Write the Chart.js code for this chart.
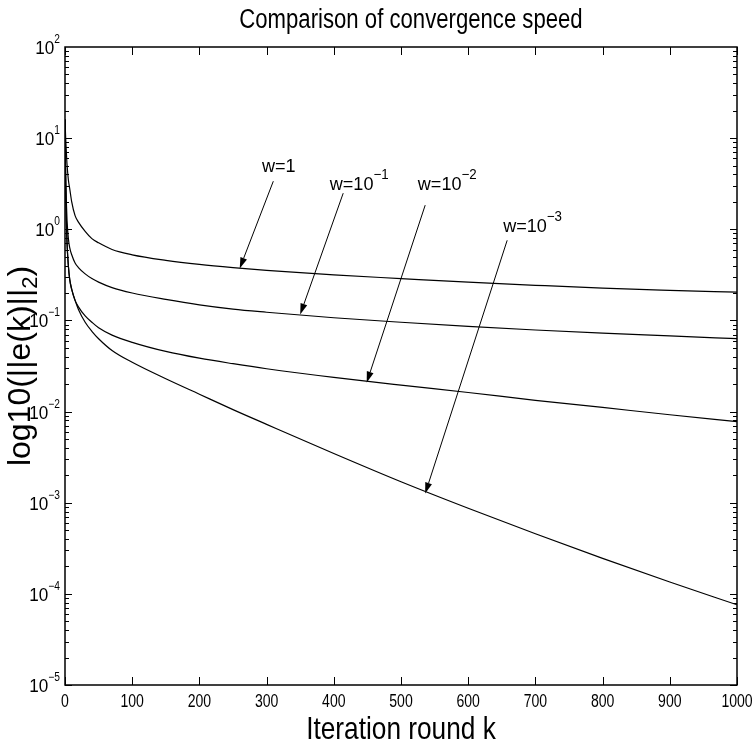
<!DOCTYPE html>
<html>
<head>
<meta charset="utf-8">
<script src="https://cdn.jsdelivr.net/npm/chart.js@4.4.1/dist/chart.umd.min.js"></script>
<style>
html,body{margin:0;padding:0;background:#fff;}
#wrap{width:753px;height:745px;}
</style>
</head>
<body>
<div id="wrap"><canvas id="c" width="753" height="745"></canvas></div>
<script>
// ---- data ----
const chartTitle = 'Comparison of convergence speed';
const xTitle = 'Iteration round k';
const kVals = [0,1,2,3,5,7,10,15,20,30,40,50,70,100,150,200,250,300,400,500,600,700,800,900,1000];
const errW1    = [16,10,7.1,5.2,3.5,2.8,2.0,1.41,1.2,0.95,0.79,0.71,0.60,0.525,0.457,0.412,0.380,0.355,0.316,0.288,0.263,0.243,0.226,0.214,0.204];
const errW01   = [16,4.0,2.0,1.26,0.79,0.63,0.525,0.427,0.38,0.324,0.288,0.263,0.229,0.2,0.17,0.148,0.133,0.123,0.107,0.0955,0.0861,0.0785,0.0724,0.0676,0.063];
const errW001  = [16,3.16,1.26,0.71,0.398,0.282,0.219,0.166,0.141,0.112,0.0955,0.083,0.069,0.0575,0.0457,0.0385,0.0335,0.0295,0.0237,0.0195,0.0162,0.0133,0.0111,0.00923,0.00776];
const errW0001 = [16,3.16,1.26,0.71,0.398,0.282,0.219,0.166,0.132,0.0955,0.0759,0.063,0.0468,0.0347,0.0229,0.0155,0.0105,0.00724,0.00347,0.0017,0.00087,0.000457,0.000245,0.000135,0.0000759];
const xTicks = [0,100,200,300,400,500,600,700,800,900,1000];
const yExps = [-5,-4,-3,-2,-1,0,1,2];
// annotations (data coordinates)
const annBase  = ['w=1','w=10','w=10','w=10'];
const annExp   = ['','\u22121','\u22122','\u22123'];
const annTextK = [293,394,525,652];
const annTextV = [4.23,2.69,2.69,0.927];
const arrFromK = [310,414,536,658];
const arrFromV = [3.37,2.49,1.84,0.757];
const arrToK   = [260,350,449,536];
const arrToV   = [0.372,0.116,0.0208,0.00126];

const REG = "'Liberation Sans',Arial,Helvetica,sans-serif";

function pts(arr){ return kVals.map((k,i)=>({x:k,y:arr[i]})); }
const series = [errW1, errW01, errW001, errW0001];

// draw text horizontally condensed by factor hs
function sText(ctx, t, x, y, size, align, hs){
  ctx.save();
  ctx.font = size+'px '+REG;
  ctx.textAlign = 'left';
  ctx.textBaseline = 'alphabetic';
  const w = ctx.measureText(t).width*hs;
  let left = x;
  if(align==='center') left = x - w/2; else if(align==='right') left = x - w;
  ctx.translate(left, y);
  ctx.scale(hs,1);
  ctx.fillText(t,0,0);
  ctx.restore();
  return w;
}

const decor = {
  id:'decor',
  afterDraw(chart){
    const {ctx, chartArea:a, scales:{x,y}} = chart;
    ctx.save();
    ctx.strokeStyle='#000'; ctx.fillStyle='#000';
    // inward ticks
    ctx.lineWidth=1;
    ctx.beginPath();
    xTicks.forEach(v=>{
      const px=Math.round(x.getPixelForValue(v))+0.5;
      ctx.moveTo(px,a.bottom); ctx.lineTo(px,a.bottom-8);
      ctx.moveTo(px,a.top); ctx.lineTo(px,a.top+8);
    });
    for(let e=yExps[0]; e<yExps[yExps.length-1]; e++){
      for(let m=1;m<=9;m++){
        const py=Math.round(y.getPixelForValue(m*Math.pow(10,e)))+0.5;
        const len = m===1?7:4;
        ctx.moveTo(a.left,py); ctx.lineTo(a.left+len,py);
        ctx.moveTo(a.right,py); ctx.lineTo(a.right-len,py);
      }
    }
    ctx.stroke();
    // box
    ctx.lineWidth=1.5;
    ctx.strokeRect(a.left,a.top,a.right-a.left,a.bottom-a.top);
    // x tick labels
    xTicks.forEach(v=>{
      sText(ctx, String(v), x.getPixelForValue(v), a.bottom+22, 18, 'center', 0.78);
    });
    // y tick labels 10^e
    yExps.forEach(e=>{
      const py=y.getPixelForValue(Math.pow(10,e));
      const es = e<0 ? '\u2212'+(-e) : String(e);
      const right=a.left-5;
      const ew = sText(ctx, es, right, py-4, 12, 'right', 0.85);
      sText(ctx, '10', right-ew, py+7, 18, 'right', 0.95);
    });
    // title
    sText(ctx, chartTitle, (a.left+a.right)/2+10, 28, 27, 'center', 0.82);
    // x title
    sText(ctx, xTitle, (a.left+a.right)/2, 739, 32, 'center', 0.82);
    // y axis title with subscript
    ctx.save();
    ctx.translate(30,(a.top+a.bottom)/2);
    ctx.rotate(-Math.PI/2);
    const p1='log10(||e(k)||', p2='2', p3=')';
    ctx.font='32px '+REG; const w1=ctx.measureText(p1).width, w3=ctx.measureText(p3).width;
    ctx.font='22px '+REG; const w2=ctx.measureText(p2).width;
    let sx=-(w1+w2+w3)/2;
    ctx.textAlign='left'; ctx.textBaseline='alphabetic';
    ctx.font='32px '+REG; ctx.fillText(p1,sx,0);
    ctx.font='22px '+REG; ctx.fillText(p2,sx+w1,7);
    ctx.font='32px '+REG; ctx.fillText(p3,sx+w1+w2,0);
    ctx.restore();
    // annotations
    ctx.lineWidth=1;
    annBase.forEach((t,i)=>{
      const tx=x.getPixelForValue(annTextK[i]), ty=y.getPixelForValue(annTextV[i]);
      const bw = sText(ctx, t, tx, ty, 19, 'left', 0.95);
      if(annExp[i]) sText(ctx, annExp[i], tx+bw, ty-11, 14, 'left', 0.95);
      const x0=x.getPixelForValue(arrFromK[i]), y0=y.getPixelForValue(arrFromV[i]);
      const x1=x.getPixelForValue(arrToK[i]), y1=y.getPixelForValue(arrToV[i]);
      const ang=Math.atan2(y1-y0,x1-x0), L=11, W=3.5;
      const bx=x1-L*Math.cos(ang), by=y1-L*Math.sin(ang);
      ctx.beginPath(); ctx.moveTo(x0,y0); ctx.lineTo(bx,by); ctx.stroke();
      ctx.beginPath();
      ctx.moveTo(x1,y1);
      ctx.lineTo(bx+W*Math.sin(ang),by-W*Math.cos(ang));
      ctx.lineTo(bx-W*Math.sin(ang),by+W*Math.cos(ang));
      ctx.closePath(); ctx.fill();
    });
    ctx.restore();
  }
};

new Chart(document.getElementById('c'),{
  type:'line',
  data:{datasets: series.map((s,i)=>({
    label:['w=1','w=0.1','w=0.01','w=0.001'][i],
    data:pts(s), borderColor:'#000', borderWidth:1.2, pointRadius:0,
    cubicInterpolationMode:'monotone', fill:false
  }))},
  options:{
    responsive:false, animation:false,
    layout:{padding:{left:0,right:16,top:47,bottom:0}},
    plugins:{legend:{display:false}, title:{display:false}, tooltip:{enabled:false}},
    scales:{
      x:{type:'linear',min:0,max:1000,
        afterFit:s=>{ s.height=60; },
        grid:{display:false, drawTicks:false}, border:{display:false},
        ticks:{display:false}
      },
      y:{type:'logarithmic',min:1e-5,max:1e2,
        afterFit:s=>{ s.width=65; },
        grid:{display:false, drawTicks:false}, border:{display:false},
        ticks:{display:false}
      }
    }
  },
  plugins:[decor]
});
</script>
</body>
</html>
